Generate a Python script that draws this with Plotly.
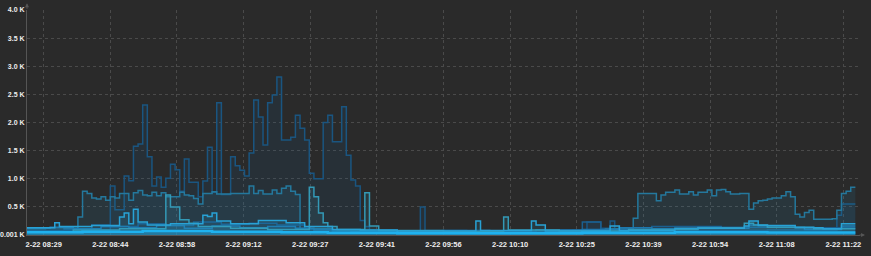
import plotly.graph_objects as go

# minutes since 08:25:24 (chart spans 3 hours)
tick_minutes = [3.6, 18.0, 32.4, 46.8, 61.2, 75.6, 90.0, 104.4, 118.8, 133.2, 147.6, 162.0, 176.4]
tick_labels = ["2-22 08:29", "2-22 08:44", "2-22 08:58", "2-22 09:12", "2-22 09:27",
               "2-22 09:41", "2-22 09:56", "2-22 10:10", "2-22 10:25", "2-22 10:39",
               "2-22 10:54", "2-22 11:08", "2-22 11:22"]
y_tick_vals = [1, 500, 1000, 1500, 2000, 2500, 3000, 3500, 4000]
y_tick_labels = ["0.001 K", "0.5 K", "1.0 K", "1.5 K", "2.0 K", "2.5 K", "3.0 K", "3.5 K", "4.0 K"]

# (minute, value) change points per series
series_a = [(0, 60), (5, 80), (11, 90), (18, 870), (19, 450), (21, 1050), (22, 965), (23, 1580),
            (24, 1620), (25, 2310), (26, 1390), (27, 870), (28, 1030), (29, 850), (30, 1010),
            (31, 1260), (32, 1160), (33, 780), (34, 1350), (35, 940), (37, 680), (38, 960),
            (39, 1560), (40, 760), (41, 2350), (42, 720), (44, 1390), (45, 1230), (46, 1150),
            (47, 1050), (48, 1460), (49, 2400), (50, 2100), (51, 1600), (52, 2350), (53, 2490),
            (54, 2810), (55, 1690), (57, 1740), (58, 2130), (59, 1900), (60, 1690), (61, 1100),
            (62, 1000), (64, 2000), (65, 2130), (66, 1660), (68, 2280), (69, 1420), (70, 980),
            (71, 870), (72, 260), (73, 150), (74, 90), (80, 70), (85, 500), (86, 80), (95, 60),
            (110, 90), (121, 230), (124, 120), (126, 250), (127, 100), (140, 80), (160, 90),
            (175, 350), (176, 550), (179, 550)]
series_b = [(0, 110), (4, 130), (8, 120), (11, 320), (12, 780), (13, 740), (14, 660), (15, 640),
            (16, 680), (17, 620), (18, 680), (19, 660), (20, 740), (22, 620), (23, 750), (24, 790),
            (25, 710), (26, 700), (27, 760), (28, 700), (29, 750), (30, 680), (33, 760), (34, 710),
            (35, 700), (36, 650), (37, 550), (38, 740), (40, 770), (41, 730), (44, 740), (48, 870),
            (49, 740), (50, 790), (51, 730), (53, 800), (54, 740), (55, 830), (56, 870), (57, 780),
            (58, 720), (59, 110), (66, 80), (75, 60), (90, 70), (105, 60), (118, 80), (125, 110),
            (131, 300), (132, 740), (136, 610), (137, 710), (138, 760), (140, 800), (141, 730),
            (143, 770), (144, 710), (145, 760), (147, 800), (148, 700), (149, 800), (150, 810),
            (151, 770), (152, 730), (154, 740), (156, 460), (157, 570), (158, 610), (159, 620),
            (160, 640), (161, 660), (163, 700), (164, 770), (165, 680), (166, 370), (167, 320),
            (168, 400), (169, 440), (170, 280), (174, 290), (175, 440), (176, 740), (177, 780),
            (178, 850), (179, 850)]
series_c = [(0, 60), (10, 90), (20, 110), (30, 710), (31, 500), (33, 270), (35, 210), (37, 150),
            (44, 120), (52, 100), (61, 850), (62, 680), (63, 390), (64, 220), (65, 150), (67, 100),
            (73, 750), (74, 160), (76, 80), (90, 60), (103, 320), (104, 90), (115, 70), (130, 100),
            (145, 130), (155, 210), (157, 180), (160, 140), (170, 110), (179, 110)]
series_d = [(0, 130), (6, 220), (7, 150), (14, 170), (20, 320), (21, 390), (22, 200), (23, 460),
            (24, 230), (26, 180), (31, 200), (38, 350), (39, 330), (40, 390), (41, 250), (44, 200),
            (50, 260), (56, 220), (60, 150), (66, 100), (72, 90), (80, 70), (97, 250), (98, 80),
            (109, 250), (110, 180), (112, 70), (126, 160), (128, 80), (140, 120), (155, 160),
            (156, 250), (158, 170), (166, 130), (172, 110), (176, 200), (179, 200)]
series_e = [(0, 50), (12, 60), (25, 70), (40, 60), (55, 50), (65, 40), (80, 30), (100, 30),
            (120, 40), (140, 50), (160, 45), (179, 45)]
series_f = [(0, 120), (5, 140), (10, 110), (16, 150), (22, 130), (28, 170), (34, 120), (40, 160),
            (46, 130), (52, 150), (58, 120), (62, 90), (70, 70), (80, 60), (90, 80), (100, 70),
            (110, 90), (120, 100), (128, 130), (135, 110), (145, 140), (150, 120), (156, 180),
            (160, 140), (168, 100), (176, 160), (179, 160)]
series_g = [(0, 80), (8, 100), (14, 180), (18, 150), (24, 200), (30, 170), (36, 230), (42, 190),
            (48, 210), (54, 180), (60, 100), (66, 60), (85, 50), (120, 230), (124, 100), (135, 150),
            (150, 140), (170, 130), (179, 130)]

styles = [
    (series_a, "#1a5580", "rgba(28,90,135,0.15)", 1.5),
    (series_b, "#24789d", "rgba(38,130,170,0.15)", 1.5),
    (series_g, "#1b5f8f", "rgba(29,102,153,0.12)", 1.5),
    (series_f, "#1e78ae", "rgba(31,128,185,0.12)", 1.5),
    (series_c, "#3399b6", "rgba(56,163,194,0.12)", 1.5),
    (series_d, "#28a2d6", "rgba(42,170,223,0.12)", 1.5),
    (series_e, "#1fb2ef", "rgba(31,178,239,0.35)", 2.5),
]

fig = go.Figure()
for data, line_col, fill_col, w in styles:
    fig.add_trace(go.Scatter(
        x=[p[0] for p in data], y=[p[1] for p in data],
        mode="lines", line=dict(shape="hv", color=line_col, width=w),
        fill="tozeroy", fillcolor=fill_col, hoverinfo="skip", showlegend=False))

bg = "#2a2a2a"
y_font = dict(family="Liberation Sans, Arial, sans-serif", size=7, color="#eeeeee", weight="bold")
x_font = dict(family="Liberation Sans, Arial, sans-serif", size=7.5, color="#eeeeee", weight="bold")
fig.update_layout(
    width=871, height=256,
    margin=dict(l=27, r=11, t=10, b=21, autoexpand=False),
    paper_bgcolor=bg, plot_bgcolor=bg,
    font=dict(family="Liberation Sans, Arial, sans-serif", size=8, color="#e6e6e6"),
    showlegend=False,
    annotations=[
        dict(xref="paper", yref="paper", x=0, y=1.03, ax=0, ay=7, text="", showarrow=True,
             arrowhead=2, arrowsize=0.8, arrowwidth=1, arrowcolor="#555555"),
        dict(xref="paper", yref="paper", x=1.006, y=0, ax=-7, ay=0, text="", showarrow=True,
             arrowhead=2, arrowsize=0.8, arrowwidth=1, arrowcolor="#555555"),
    ],
)
fig.update_xaxes(
    range=[0, 180], tickvals=tick_minutes, ticktext=tick_labels, automargin=False,
    showgrid=True, gridcolor="#4a4a4a", griddash="dot", gridwidth=1,
    showline=True, linecolor="#555555", linewidth=1, zeroline=False,
    ticks="", tickfont=x_font, ticklabelstandoff=2,
)
fig.update_yaxes(
    range=[0, 4000], tickvals=y_tick_vals, ticktext=y_tick_labels, automargin=False,
    showgrid=True, gridcolor="#4a4a4a", griddash="dot", gridwidth=1,
    showline=True, linecolor="#555555", linewidth=1, zeroline=False,
    ticks="", tickfont=y_font, ticklabelstandoff=0,
)
fig.write_html("out.html")
